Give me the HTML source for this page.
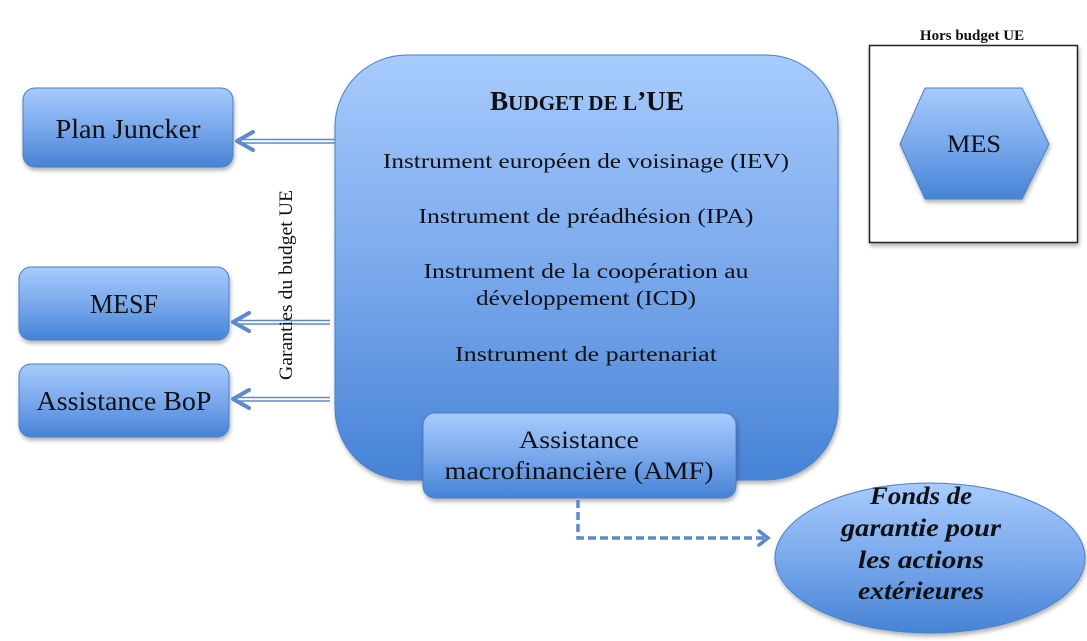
<!DOCTYPE html>
<html><head><meta charset="utf-8"><style>body{margin:0;background:#fff}svg{display:block}</style></head>
<body>
<svg width="1087" height="641" viewBox="0 0 1087 641" xmlns="http://www.w3.org/2000/svg" font-family="Liberation Serif, serif">
<defs>
<linearGradient id="g" x1="0" y1="0" x2="0" y2="1">
<stop offset="0" stop-color="#a7cbfd"/><stop offset="0.5" stop-color="#7aa9ec"/><stop offset="1" stop-color="#4683d6"/>
</linearGradient>
<filter id="s" x="-10%" y="-10%" width="130%" height="130%"><feDropShadow dx="1" dy="3" stdDeviation="2" flood-color="#000" flood-opacity="0.3"/></filter>
</defs>
<rect x="335" y="55" width="503" height="425" rx="72" fill="url(#g)" stroke="#4a80c8" filter="url(#s)"/>
<rect x="23" y="88" width="210" height="79" rx="12" fill="url(#g)" stroke="#4a80c8" filter="url(#s)"/>
<rect x="19" y="267" width="210" height="73" rx="12" fill="url(#g)" stroke="#4a80c8" filter="url(#s)"/>
<rect x="19" y="364" width="210" height="73" rx="12" fill="url(#g)" stroke="#4a80c8" filter="url(#s)"/>
<text x="128" y="138" font-size="27" text-anchor="middle" fill="#111" textLength="145" lengthAdjust="spacingAndGlyphs">Plan Juncker</text>
<text x="124" y="313" font-size="27" text-anchor="middle" fill="#111" textLength="68" lengthAdjust="spacingAndGlyphs">MESF</text>
<text x="124" y="410" font-size="27" text-anchor="middle" fill="#111" textLength="175" lengthAdjust="spacingAndGlyphs">Assistance BoP</text>
<g stroke="#5a8ad0" fill="none" stroke-width="1.5">
<line x1="240" y1="139.5" x2="335" y2="139.5"/><line x1="240" y1="143" x2="335" y2="143"/>
<line x1="236" y1="320.5" x2="330" y2="320.5"/><line x1="236" y1="324" x2="330" y2="324"/>
<line x1="236" y1="397.5" x2="330" y2="397.5"/><line x1="236" y1="401" x2="330" y2="401"/>
</g>
<g stroke="#5a8ad0" fill="none" stroke-width="4" stroke-linecap="round" stroke-linejoin="round">
<polyline points="253,132 237,141 253,150"/>
<polyline points="249,313 233,322 249,331"/>
<polyline points="249,390 233,399 249,408"/>
</g>
<text transform="translate(292,285) rotate(-90)" font-size="19" text-anchor="middle" fill="#111" textLength="190" lengthAdjust="spacingAndGlyphs">Garanties du budget UE</text>
<text x="587" y="110" text-anchor="middle" font-weight="bold" fill="#111" font-size="27" textLength="194" lengthAdjust="spacingAndGlyphs">B<tspan font-size="21">UDGET DE L</tspan>’UE</text>
<g font-size="21" text-anchor="middle" fill="#111">
<text x="586" y="168" textLength="406" lengthAdjust="spacingAndGlyphs">Instrument européen de voisinage (IEV)</text>
<text x="586" y="223" textLength="335" lengthAdjust="spacingAndGlyphs">Instrument de préadhésion (IPA)</text>
<text x="586" y="278" textLength="325" lengthAdjust="spacingAndGlyphs">Instrument de la coopération au</text>
<text x="586" y="305" textLength="220" lengthAdjust="spacingAndGlyphs">développement (ICD)</text>
<text x="586" y="361" textLength="262" lengthAdjust="spacingAndGlyphs">Instrument de partenariat</text>
</g>
<rect x="423" y="413" width="313" height="85" rx="12" fill="url(#g)" stroke="#4a80c8" filter="url(#s)"/>
<text x="579" y="448" font-size="25" text-anchor="middle" fill="#111" textLength="120" lengthAdjust="spacingAndGlyphs">Assistance</text>
<text x="579" y="479" font-size="25" text-anchor="middle" fill="#111" textLength="269" lengthAdjust="spacingAndGlyphs">macrofinancière (AMF)</text>
<polyline points="578,500 578,538 765,538" fill="none" stroke="#5a8ad0" stroke-width="3.5" stroke-dasharray="8,4"/>
<polyline points="759,531 768,538 759,545" fill="none" stroke="#5a8ad0" stroke-width="3.5" stroke-linecap="round"/>
<ellipse cx="930" cy="558" rx="155" ry="75" fill="url(#g)" stroke="#4a80c8" filter="url(#s)"/>
<g font-size="25" font-style="italic" font-weight="bold" text-anchor="middle" fill="#111">
<text x="921" y="504" textLength="102" lengthAdjust="spacingAndGlyphs">Fonds de</text>
<text x="921" y="536" textLength="160" lengthAdjust="spacingAndGlyphs">garantie pour</text>
<text x="921" y="568" textLength="126" lengthAdjust="spacingAndGlyphs">les actions</text>
<text x="921" y="599" textLength="126" lengthAdjust="spacingAndGlyphs">extérieures</text>
</g>
<text x="972" y="40" font-size="15" font-weight="bold" text-anchor="middle" fill="#111">Hors budget UE</text>
<rect x="869.5" y="45.5" width="208" height="197" fill="#fff" stroke="#222" stroke-width="1.5" filter="url(#s)"/>
<polygon points="925,88 1022,88 1049,144 1022,199 925,199 900,144" fill="url(#g)" stroke="#4a80c8" filter="url(#s)"/>
<text x="974" y="152" font-size="25" text-anchor="middle" fill="#111" textLength="54" lengthAdjust="spacingAndGlyphs">MES</text>
</svg>
</body></html>
